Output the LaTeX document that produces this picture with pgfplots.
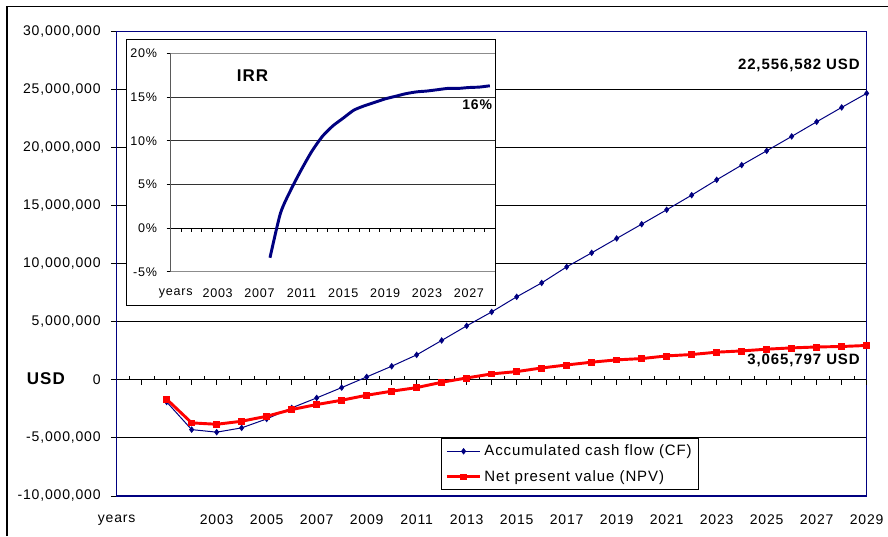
\documentclass[border=0pt]{standalone}
\usepackage{pgfplots}
\pgfplotsset{compat=1.18}
\usepackage{pgfplotstable}
\usepackage{fontspec}
\setmainfont{Liberation Sans}[LetterSpace=6]
\definecolor{navyc}{RGB}{0,0,128}
\definecolor{redc}{RGB}{255,0,0}
\newcommand\fA{\fontsize{10.5pt}{12pt}\selectfont}
\newcommand\fB{\fontsize{11.25pt}{13pt}\selectfont}
\newcommand\fD{\fontsize{9.4pt}{11pt}\selectfont}

\pgfplotstableread{
year cf npv
2001 -1.90 -1.66
2002 -4.28 -3.70
2003 -4.50 -3.82
2004 -4.13 -3.56
2005 -3.36 -3.13
2006 -2.41 -2.55
2007 -1.55 -2.12
2008 -0.66 -1.75
2009 0.26 -1.32
2010 1.18 -0.97
2011 2.16 -0.66
2012 3.40 -0.20
2013 4.66 0.17
2014 5.86 0.52
2015 7.16 0.72
2016 8.36 1.03
2017 9.74 1.29
2018 10.95 1.53
2019 12.19 1.73
2020 13.42 1.84
2021 14.66 2.07
2022 15.92 2.19
2023 17.24 2.39
2024 18.51 2.50
2025 19.74 2.65
2026 20.98 2.76
2027 22.24 2.84
2028 23.48 2.88
2029 24.69 2.97
}\maindata

\pgfplotstableread{
year irr
2008 -3.4
2009 1.7
2010 4.4
2011 6.7
2012 8.8
2013 10.5
2014 11.7
2015 12.6
2016 13.5
2017 14.0
2018 14.4
2019 14.8
2020 15.1
2021 15.4
2022 15.6
2023 15.7
2024 15.85
2025 16.0
2026 16.0
2027 16.1
2028 16.15
2029 16.3
}\irrdata

\begin{document}
\begin{tikzpicture}
\path[use as bounding box] (0,0) rectangle (666pt,402pt);
\draw[black, line width=1pt] (5.25pt,0pt) -- (5.25pt,397pt) -- (666pt,397pt);

\begin{axis}[
  at={(87.5pt,30pt)}, anchor=south west,
  scale only axis, width=562.5pt, height=348.2pt,
  xmin=1999, xmax=2029, ymin=-10, ymax=30,
  clip=false,
  /pgf/number format/assume math mode=true,
  ytick={-10,-5,...,30},
  yticklabels={{-10,000,000},{-5,000,000},{0},{5,000,000},{10,000,000},{15,000,000},{20,000,000},{25,000,000},{30,000,000}},
  xtick={1999,2003,2005,...,2029},
  xticklabels={years,2003,2005,2007,2009,2011,2013,2015,2017,2019,2021,2023,2025,2027,2029},
  tick label style={font=\fA},
  yticklabel style={anchor=east, inner sep=0pt, xshift=-7.5pt},
  xticklabel style={anchor=north, inner sep=0pt, yshift=-9.5pt},
  x tick style={draw=none},
  y tick style={black, line width=0.75pt},
  ytick pos=left,
  tick align=outside, major tick length=4.3pt,
  ymajorgrids, grid style={black, line width=0.75pt},
  axis line style={navyc, line width=1pt},
  legend style={at={(0.4324,0.1256)}, anchor=north west, draw=black, line width=0.75pt, fill=white,
    font=\fB, inner xsep=3pt, inner ysep=3pt, row sep=5.5pt},
  legend cell align=left,
  legend image code/.code={\draw[mark repeat=2,mark phase=2,#1] plot coordinates {(0pt,0pt) (12.5pt,0pt) (25pt,0pt)};},
]
\pgfplotsinvokeforeach{2000,...,2029}{\draw[black, line width=0.75pt] (axis cs:#1,0) -- ([yshift=-3.75pt]axis cs:#1,0);}
\pgfplotsinvokeforeach{1999,...,2028}{\draw[black, line width=0.75pt] (axis cs:#1.5,0) -- ([yshift=3.2pt]axis cs:#1.5,0);}
\addplot[navyc, line width=0.75pt, mark=diamond*, mark size=1.9pt, mark options={fill=navyc, draw=navyc}] table[x=year, y=cf] {\maindata};
\addlegendentry{Accumulated cash flow (CF)}
\addplot[redc, line width=2.2pt, mark=square*, mark size=2.2pt, mark options={fill=redc, draw=redc, line width=0.5pt}] table[x=year, y=npv] {\maindata};
\addlegendentry{Net present value (NPV)}
\end{axis}

\node[anchor=base west, inner sep=0pt, font=\fontsize{12.75pt}{14pt}\selectfont\bfseries] at (20pt,114pt) {USD};
\node[anchor=base east, inner sep=0pt, font=\fB\bfseries] at (645pt,349.8pt) {22,556,582 USD};
\node[anchor=base east, inner sep=0pt, font=\fB\bfseries] at (645pt,128.8pt) {3,065,797 USD};

\fill[white] (95pt,173pt) rectangle (371.5pt,372.5pt);
\begin{axis}[
  at={(127.9pt,198.2pt)}, anchor=south west,
  scale only axis, width=243.4pt, height=163.7pt,
  xmin=1998.5, xmax=2029.5, ymin=-5, ymax=20,
  /pgf/number format/assume math mode=true,
  ytick={-5,0,...,20},
  yticklabels={-5\%,0\%,5\%,10\%,15\%,20\%},
  xtick={1999,2003,...,2027},
  xticklabels={years,2003,2007,2011,2015,2019,2023,2027},
  tick label style={font=\fD},
  yticklabel style={anchor=east, inner sep=0pt, xshift=-7pt},
  xticklabel style={anchor=north, inner sep=0pt, yshift=-9.5pt},
  x tick style={draw=none},
  y tick style={black, line width=0.75pt},
  ytick pos=left,
  tick align=outside, major tick length=3pt,
  ymajorgrids, grid style={black!80, line width=0.7pt},
  axis line style={black!45, line width=0.75pt},
]
\draw[black, line width=0.9pt] (rel axis cs:0,0) -- (rel axis cs:0,1);
\draw[black, line width=0.75pt] (axis cs:1998.5,0) -- (axis cs:2029.5,0);
\pgfplotsinvokeforeach{1999,...,2029}{\draw[black, line width=0.7pt] (axis cs:#1.5,0) -- ([yshift=-3pt]axis cs:#1.5,0);}
\addplot[navyc, line width=2.2pt, smooth, tension=0.4, no marks] table[x=year, y=irr] {\irrdata};
\end{axis}
\draw[black, line width=1.1pt] (95pt,173pt) rectangle (371.5pt,372.5pt);
\node[anchor=base west, inner sep=0pt, font=\fontsize{12.75pt}{14pt}\selectfont\bfseries] at (177.5pt,340.7pt) {IRR};
\node[anchor=base east, inner sep=0pt, font=\fA\bfseries] at (369.2pt,320pt) {16\%};
\end{tikzpicture}
\end{document}
